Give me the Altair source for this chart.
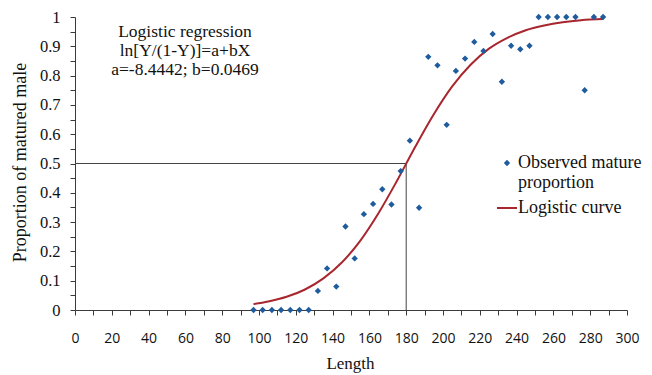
import altair as alt
import pandas as pd

# Observed mature proportion by length
obs_length = [97, 102, 107, 112, 117, 122, 127, 132, 137, 142, 147, 152, 157, 162,
              167, 172, 177, 182, 187, 192, 197, 202, 207, 212, 217, 222, 227, 232,
              237, 242, 247, 252, 257, 262, 267, 272, 277, 282, 287]
obs_prop = [0, 0, 0, 0, 0, 0, 0, 0.065, 0.142, 0.08, 0.285, 0.176, 0.327, 0.362,
            0.412, 0.36, 0.474, 0.578, 0.349, 0.864, 0.835, 0.632, 0.816, 0.858,
            0.915, 0.884, 0.942, 0.779, 0.902, 0.89, 0.902, 1.0, 1.0, 1.0, 1.0,
            1.0, 0.75, 1.0, 1.0]

# Logistic curve
curve_length = [97, 105, 115, 125, 135, 145, 155, 165, 175, 185, 195, 205, 215,
                225, 235, 245, 255, 265, 275, 287]
curve_prop = [0.020, 0.029, 0.045, 0.070, 0.108, 0.162, 0.236, 0.331, 0.441, 0.558,
              0.668, 0.763, 0.837, 0.892, 0.929, 0.955, 0.971, 0.982, 0.989, 0.993]

# L50 reference
l50_length = 180
l50_prop = 0.5

x_ticks = [0, 10, 20, 30, 40, 50, 60, 70, 80, 90, 100, 110, 120, 130, 140, 150, 160,
           170, 180, 190, 200, 210, 220, 230, 240, 250, 260, 270, 280, 290, 300]
y_ticks = [0, 0.05, 0.1, 0.15, 0.2, 0.25, 0.3, 0.35, 0.4, 0.45, 0.5, 0.55, 0.6, 0.65,
           0.7, 0.75, 0.8, 0.85, 0.9, 0.95, 1.0]

annotation = ["Logistic regression", "ln[Y/(1-Y)]=a+bX", "a=-8.4442; b=0.0469"]
legend_labels = ["Observed mature", "proportion", "Logistic curve"]

SERIF = "Liberation Serif"
SANS = "Open Sans"
AXIS_COLOR = "#3a3a3a"
TEXT_COLOR = "#111111"
PT_COLOR = "#1F5C9E"
LINE_COLOR = "#A8262E"

obs = pd.DataFrame({"Length": obs_length, "Prop": obs_prop})
curve = pd.DataFrame({"Length": curve_length, "Prop": curve_prop})
ref = pd.DataFrame({"x0": [0, l50_length], "x1": [l50_length, l50_length],
                    "y0": [l50_prop, 0], "y1": [l50_prop, l50_prop]})

x_scale = alt.Scale(domain=[0, 300], nice=False, zero=False)
y_scale = alt.Scale(domain=[0, 1], nice=False)

x_axis = alt.Axis(
    values=x_ticks,
    labelExpr="datum.value % 20 == 0 ? datum.label : ''",
    grid=False, tickSize=5, domainColor=AXIS_COLOR, tickColor=AXIS_COLOR,
    labelFont=SANS, labelFontSize=14, labelColor=TEXT_COLOR, labelBaseline="middle",
    labelPadding=23, labelFlush=False, labelOverlap=False,
    title="Length", titleFont=SERIF, titleFontSize=17, titleFontWeight="normal",
    titleColor=TEXT_COLOR, titleX=275, titleY=53, titleBaseline="middle",
    titleAnchor="middle",
)
y_axis = alt.Axis(
    values=y_ticks,
    labelExpr="round(datum.value*100) % 10 == 0 ? format(datum.value, '.1~f') : ''",
    grid=False, tickSize=5, domainColor=AXIS_COLOR, tickColor=AXIS_COLOR,
    labelFont=SERIF, labelFontSize=16.5, labelColor=TEXT_COLOR, labelPadding=10,
    labelFlush=False, labelOverlap=False, labelBaseline="middle",
    title="Proportion of matured male", titleFont=SERIF, titleFontSize=18,
    titleFontWeight="normal", titleColor=TEXT_COLOR, titleAngle=270, titleX=-55,
    titleY=145, titleBaseline="middle", titleAlign="center",
)

refs = alt.Chart(ref).mark_rule(color="#444", strokeWidth=1).encode(
    x=alt.X("x0:Q", scale=x_scale, axis=x_axis), x2="x1:Q",
    y=alt.Y("y0:Q", scale=y_scale, axis=y_axis), y2="y1:Q",
)

line = alt.Chart(curve).mark_line(
    color=LINE_COLOR, strokeWidth=2, interpolate="monotone"
).encode(x=alt.X("Length:Q", scale=x_scale, axis=x_axis),
         y=alt.Y("Prop:Q", scale=y_scale, axis=y_axis))

points = alt.Chart(obs).mark_point(
    shape="diamond", filled=True, size=40, color=PT_COLOR, opacity=1
).encode(x=alt.X("Length:Q", scale=x_scale, axis=x_axis),
         y=alt.Y("Prop:Q", scale=y_scale, axis=y_axis))

one = pd.DataFrame({"k": [0]})


def label(text, x, y, align, size):
    return alt.Chart(one).mark_text(
        font=SERIF, fontSize=size, color=TEXT_COLOR, align=align, baseline="middle"
    ).encode(text=alt.value(text), x=alt.value(x), y=alt.value(y))


ann_layers = [label(annotation[0], 110, 15, "center", 17.5),
              label(annotation[1], 110, 34, "center", 17.5),
              label(annotation[2], 110, 53, "center", 17.5)]
leg_layers = [label(legend_labels[0], 443, 146, "left", 18),
              label(legend_labels[1], 443, 166, "left", 18),
              label(legend_labels[2], 443, 191, "left", 18)]

leg_pt = alt.Chart(one).mark_point(
    shape="diamond", filled=True, size=40, color=PT_COLOR, opacity=1
).encode(x=alt.value(432), y=alt.value(146))
leg_line = alt.Chart(one).mark_rule(
    color=LINE_COLOR, strokeWidth=2
).encode(x=alt.value(422), x2=alt.value(442), y=alt.value(191))

chart = alt.layer(refs, line, points, *ann_layers, *leg_layers, leg_pt, leg_line).properties(
    width=552, height=293,
    autosize=alt.AutoSizeParams(type="none"),
    padding={"left": 75, "top": 17, "right": 25, "bottom": 65},
    background="white",
).configure_view(stroke=None)

chart.save("out.html", embed_options={"renderer": "svg", "actions": False})
